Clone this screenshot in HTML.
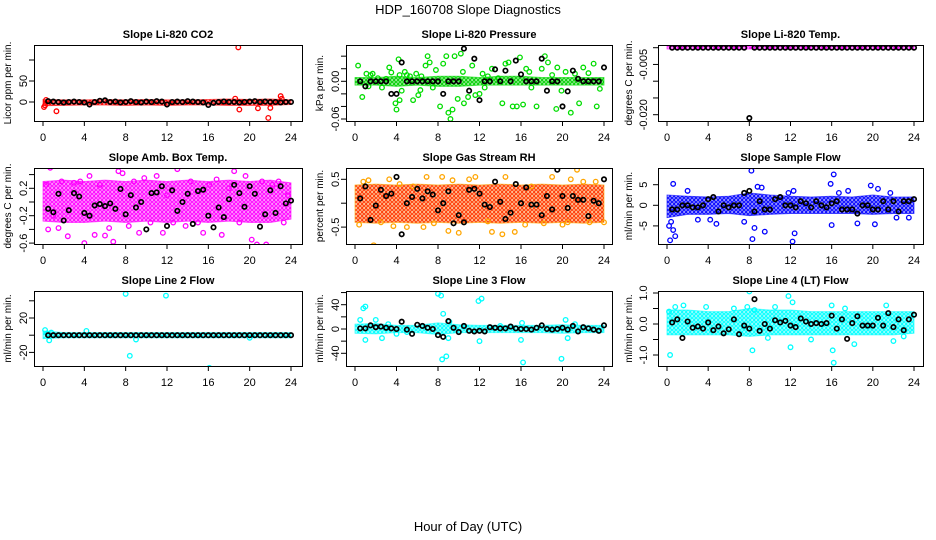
<!DOCTYPE html>
<html><head><meta charset="utf-8">
<style>
html,body{margin:0;padding:0;background:#fff;}
svg{display:block;font-family:"Liberation Sans",Arial,sans-serif;}
</style></head>
<body>
<svg id="chart" width="936" height="540" viewBox="0 0 936 540" xmlns="http://www.w3.org/2000/svg">
<text x="468" y="14" text-anchor="middle" font-size="13">HDP_160708  Slope Diagnostics</text>
<text x="468" y="531" text-anchor="middle" font-size="13">Hour of Day (UTC)</text>
<g id="panels"></g>
</svg>
<script>
const bandHours=[0,2,4,6,8,10,12,14,16,18,20,22,24];
const xTicks=[0,4,8,12,16,20,24];

const p1Lo=[-9,-8,-7,-7,-8,-7,-8,-7,-7,-8,-8,-8,-6];
const p1Hi=[6,5,5,6,5,6,5,5,6,7,6,7,5];
const p1Out=[[0.1,-12],[0.3,5],[1.3,-22],[18.6,8],[18.9,130],[19.0,-18],[20.8,-15],[21.8,-38],[22.0,-14],[23.0,14],[23.1,8],[0.2,-8]];
const p1Black=[2,1,0,-1,0,1,0,-1,-6,0,3,4,0,1,-1,0,2,0,-1,1,0,2,1,-6,0,1,0,2,1,0,-1,-7,-2,0,1,0,0,-1,0,1,2,0,1,0,0,-1,0,0];

const p2Lo=[-0.006,-0.006,-0.008,-0.006,-0.008,-0.008,-0.006,-0.006,-0.006,-0.006,-0.006,-0.006,-0.006];
const p2Hi=[0.006,0.006,0.008,0.006,0.008,0.008,0.006,0.008,0.008,0.006,0.006,0.006,0.006];
const p2Out=[[0.3,0.025],[0.7,-0.025],[1.1,0.012],[1.3,-0.008],[1.5,0.01],[1.7,0.012],[2.2,0.005],[2.6,-0.01],[3.0,0.004],[3.3,0.022],[3.5,0.014],[3.9,-0.035],[4.0,-0.045],[4.2,0.035],[4.3,0.01],[4.5,-0.015],[4.8,0.015],[5.0,0.01],[5.3,0.008],[5.6,-0.03],[5.9,0.012],[6.1,-0.022],[6.4,0.008],[6.8,0.025],[7.0,0.04],[7.2,0.03],[7.5,-0.01],[7.8,0.018],[8.2,-0.04],[8.5,0.028],[8.8,0.04],[9.0,-0.05],[9.2,-0.06],[9.4,-0.045],[9.6,0.04],[9.9,-0.028],[10.2,0.044],[10.4,0.015],[10.9,-0.025],[11.3,0.025],[11.6,-0.022],[12.0,-0.02],[12.3,0.012],[12.8,0.008],[13.2,0.02],[13.8,0.005],[14.2,-0.035],[14.5,0.028],[14.8,0.03],[15.2,-0.04],[15.6,-0.04],[15.9,0.038],[16.2,-0.037],[16.5,0.02],[17.0,-0.01],[17.5,-0.04],[18.0,0.02],[18.3,0.04],[18.6,0.03],[19.0,0.01],[19.4,-0.044],[19.9,-0.015],[20.3,0.015],[20.8,-0.05],[21.2,0.012],[21.6,-0.035],[22.0,0.022],[22.5,0.013],[23.0,0.028],[23.3,-0.04],[23.6,-0.012],[4.3,-0.03],[6.3,-0.014],[10.5,-0.035],[12.5,-0.01],[16.8,0.015],[19.5,0.022]];
const p2Black=[0,-0.008,0,0,0,0,-0.02,-0.02,0.03,0,0,0,0,0,0,0,-0.02,0,0,0,0.052,-0.015,0.036,-0.03,0,0,0.019,0,0.017,0,0.033,0.011,0,0,0,0.036,-0.015,0,0,-0.04,-0.016,0.017,0.004,0,0,0,0,0.022];

const p3Lo=[-0.0004,-0.0004,-0.0004,-0.0004,-0.0004,-0.0004,-0.0004,-0.0004,-0.0004,-0.0004,-0.0004,-0.0004,-0.0004];
const p3Hi=[0.0004,0.0004,0.0004,0.0004,0.0004,0.0004,0.0004,0.0004,0.0004,0.0004,0.0004,0.0004,0.0004];
const p3Out=[];
const p3Black=[0,0,0,0,0,0,0,0,0,0,0,0,0,0,0,-0.021,0,0,0,0,0,0,0,0,0,0,0,0,0,0,0,0,0,0,0,0,0,0,0,0,0,0,0,0,0,0,0,0];

const p4Lo=[-0.28,-0.3,-0.3,-0.28,-0.3,-0.28,-0.3,-0.28,-0.3,-0.28,-0.3,-0.3,-0.25];
const p4Hi=[0.3,0.32,0.3,0.32,0.3,0.32,0.3,0.32,0.3,0.32,0.3,0.32,0.28];
const p4Out=[[0.3,0.25],[0.5,-0.4],[0.7,0.5],[1.0,-0.2],[1.5,-0.38],[1.8,0.3],[2.4,-0.5],[3.0,0.28],[3.6,0.3],[4.0,-0.6],[4.5,0.38],[5.0,-0.48],[5.5,0.25],[6.0,-0.49],[6.4,-0.38],[6.8,-0.58],[7.3,0.45],[7.7,0.42],[8.3,-0.35],[8.8,0.3],[9.3,-0.45],[9.8,0.35],[10.4,-0.3],[11.0,0.38],[11.6,-0.45],[12.0,0.1],[12.6,-0.3],[13.0,0.48],[13.3,-0.72],[13.8,-0.35],[14.3,0.3],[15.0,-0.3],[15.5,-0.45],[16.1,0.25],[16.8,0.33],[17.3,-0.48],[18.0,0.2],[18.5,0.45],[19.0,-0.3],[19.6,0.38],[20.2,-0.55],[20.7,-0.62],[21.2,0.3],[21.6,-0.62],[22.2,0.25],[22.8,0.3],[23.3,-0.3],[23.7,0.1]];
const p4Black=[-0.1,-0.15,0.12,-0.27,-0.12,0.13,0.08,-0.16,-0.2,-0.05,-0.03,-0.06,-0.02,-0.1,0.19,-0.18,0.1,-0.08,0.0,-0.4,0.13,0.14,0.23,-0.35,0.17,-0.13,0.0,0.12,-0.32,0.16,0.18,-0.2,-0.37,-0.08,-0.22,0.04,0.25,0.13,-0.07,0.23,0.12,-0.36,-0.18,0.17,-0.16,0.23,-0.02,0.02];

const p5Lo=[-0.4,-0.42,-0.4,-0.42,-0.4,-0.42,-0.4,-0.42,-0.4,-0.42,-0.4,-0.42,-0.4];
const p5Hi=[0.38,0.4,0.38,0.4,0.38,0.4,0.38,0.4,0.38,0.4,0.38,0.4,0.38];
const p5Out=[[0.4,-0.45],[0.8,0.45],[1.3,0.48],[1.8,-0.88],[2.5,-0.4],[3.3,0.5],[3.7,-0.48],[4.3,0.4],[5.0,-0.5],[5.6,0.35],[6.6,-0.5],[6.9,0.55],[7.6,-0.42],[8.4,0.55],[9.4,0.48],[9.0,-0.58],[10.0,-0.62],[11.0,0.5],[11.6,0.55],[12.8,-0.38],[13.2,-0.6],[14.2,-0.65],[14.5,0.55],[15.4,-0.6],[16.4,-0.45],[17.0,0.35],[18.2,-0.42],[19.0,0.55],[20.0,-0.45],[20.5,-0.4],[20.8,0.5],[21.4,0.7],[22.0,0.45],[22.6,-0.4],[23.2,0.45],[24.0,-0.4]];
const p5Black=[0.1,0.35,-0.35,-0.05,0.28,0.15,0.2,0.55,-0.65,0,0.13,0.3,0.1,0.25,0.18,-0.15,0,0.25,-0.42,-0.25,-0.4,0.28,0.3,0.2,-0.03,-0.08,0.45,0.03,-0.33,-0.2,0.4,0,0.33,-0.03,-0.03,-0.25,0.15,-0.13,0.7,0.15,-0.1,0.15,0.07,0.07,-0.27,0.05,0,0.5];

const p6Lo=[-3,-2.2,-2.2,-2,-2.5,-2.2,-2,-2,-2,-2,-2.2,-2,-2];
const p6Hi=[2.5,2.2,2,2.2,3,2.5,2.2,2,2.2,2,2.5,2,2];
const p6Out=[[0.2,-5],[0.3,-8.5],[0.4,-4],[0.6,-6],[0.8,-7.5],[0.6,5.2],[2.0,3.5],[3.0,-3.5],[4.2,-3.5],[4.8,-4.5],[7.5,-4],[8.2,8.4],[8.3,-8.2],[8.5,-5.5],[8.8,4.5],[9.5,-6.4],[9.2,4.3],[11.8,3],[12.2,-8.8],[12.4,-6.8],[12.3,3.5],[15.9,5.2],[16.2,7.5],[16.0,-4.8],[16.7,3],[17.6,3.5],[18.5,-4.4],[19.8,4.8],[20.2,-4.6],[20.5,4],[21.7,3],[22.3,-3],[23.5,-3]];
const p6Black=[-1,-1,0,0,-0.5,-0.5,0,1.5,2,-1.5,0,-0.5,0,0,3,3.5,-1.5,1,-1,-1,1.5,2,0,0,-0.5,1,0.5,-0.5,1,0,-0.5,0.5,1,-1,-1,-1,-2,0,0,-1,-1,1,-1,1,-1.5,1,1,1.5];

const p7Lo=[-4,-3,-3,-3,-3,-3,-3,-3,-3,-3,-3,-3,-3];
const p7Hi=[5,3,3,3,3,3,3,3,3,3,3,3,3];
const p7Out=[[0.2,6],[0.4,2],[0.6,-6],[0.8,3],[8.0,48],[8.4,-24],[11.9,46],[16.0,-40],[16.1,-38],[9.0,-5],[4.2,5],[20,-3]];
const p7Black=[0,0,0,0,0,0,0,0,0,0,0,0,0,0,0,0,0,0,0,0,0,0,0,0,0,0,0,0,0,0,0,0,0,0,0,0,0,0,0,0,0,0,0,0,0,0,0,0];

const p8Lo=[-7,-8,-6,-6,-9,-6,-6,-6,-6,-6,-7,-6,-6];
const p8Hi=[8,9,6,6,10,7,6,6,6,6,7,6,6];
const p8Out=[[0.5,15],[0.8,34],[1.0,37],[1.0,-18],[2.0,15],[2.6,-15],[3.2,8],[4.0,-8],[5.0,-5],[8.0,58],[8.3,55],[8.4,-50],[8.8,-45],[8.5,25],[9.0,-15],[9.1,12],[11.9,46],[12.2,50],[12.0,-20],[16.0,-18],[16.1,10],[16.2,-55],[19.9,-49],[20.3,15],[20.5,-15],[21.2,8],[14,5]];
const p8Black=[1,1,6,3,4,2,1,0,12,-1,-8,7,5,2,0,-10,-13,13,2,-5,5,-3,-4,-3,-4,3,2,1,1,4,1,0,0,-1,2,6,0,-1,0,2,-1,5,-4,3,1,-1,-3,6];

const p9Lo=[-0.35,-0.35,-0.35,-0.35,-0.4,-0.35,-0.35,-0.35,-0.35,-0.35,-0.35,-0.35,-0.3];
const p9Hi=[0.45,0.45,0.4,0.4,0.5,0.45,0.45,0.4,0.4,0.4,0.4,0.4,0.4];
const p9Out=[[0.3,-1.0],[0.2,0.4],[0.8,0.55],[1.6,0.6],[3.8,0.55],[6.5,0.5],[7.8,0.55],[8.0,1.05],[8.3,-0.85],[8.5,0.45],[10.5,0.55],[11.8,0.9],[12.0,-0.75],[12.2,0.7],[16.0,0.6],[16.1,-0.85],[16.2,-1.25],[17.3,0.5],[18.2,-0.65],[21.3,0.6],[22.0,-0.55],[23.0,-0.4],[14,-0.5],[9.8,-0.45]];
const p9Black=[0.05,0.15,-0.45,0.08,-0.12,-0.08,-0.15,0.05,-0.2,-0.08,-0.3,-0.17,0.15,-0.33,-0.05,-0.15,0.8,-0.22,0,-0.15,0.12,0.05,0.1,-0.05,-0.1,0.18,0.08,0,0.03,0,0.03,0.27,-0.15,0.15,-0.48,0.03,0.25,-0.05,-0.05,-0.05,0.2,-0.05,0.35,-0.1,0.15,-0.2,0.15,0.3];

const NS='http://www.w3.org/2000/svg';
const svg=document.getElementById('chart');
const root=document.getElementById('panels');
const cols=[{x0:34,x1:302,h0:43,h24:291,tl:27,yt:11},{x0:346,x1:612,h0:355,h24:604,tl:339,yt:323},{x0:658,x1:923,h0:667,h24:914,tl:647,yt:632}];
const rows=[{top:45,bot:121},{top:168,bot:244},{top:291,bot:366}];
const panels=[
 {key:'co2',title:'Slope Li-820 CO2',ylab:'Licor ppm per min.',c:0,r:0,a:[0,102,50,81],ticks:[0,50,100],labs:['0','50',''],color:'#ff0000',fill:'#ff0000',lo:p1Lo,hi:p1Hi,out:p1Out,blk:p1Black},
 {key:'pressure',title:'Slope Li-820 Pressure',ylab:'kPa per min.',c:1,r:0,a:[0,81.3,-0.06,119],ticks:[0.04,0.02,0,-0.02,-0.04,-0.06],labs:['','','0.00','','','-0.06'],color:'#00dd00',fill:'#00cc00',lo:p2Lo,hi:p2Hi,out:p2Out,blk:p2Black},
 {key:'temp',title:'Slope Li-820 Temp.',ylab:'degrees C per min.',c:2,r:0,a:[0,47.7,-0.02,114.7],ticks:[0,-0.005,-0.01,-0.015,-0.02],labs:['','-0.005','','','-0.020'],color:'#ff00ff',fill:'#ff00ff',lo:p3Lo,hi:p3Hi,out:p3Out,blk:p3Black},
 {key:'amb-temp',title:'Slope Amb. Box Temp.',ylab:'degrees C per min.',c:0,r:1,a:[0,202,0.2,188.3],ticks:[0.4,0.2,0,-0.2,-0.4,-0.6],labs:['','0.2','','-0.2','','-0.6'],color:'#ff00ff',fill:'#ff00ff',lo:p4Lo,hi:p4Hi,out:p4Out,blk:p4Black},
 {key:'rh',title:'Slope Gas Stream RH',ylab:'percent per min.',c:1,r:1,a:[0,203.2,0.5,179.3],ticks:[0.5,0,-0.5],labs:['0.5','','-0.5'],color:'#ffa500',fill:'#ff3300',lo:p5Lo,hi:p5Hi,out:p5Out,blk:p5Black},
 {key:'sample-flow',title:'Slope Sample Flow',ylab:'ml/min per min.',c:2,r:1,a:[0,205.3,5,184.7],ticks:[5,0,-5],labs:['5','0','-5'],color:'#0000ff',fill:'#0000ff',lo:p6Lo,hi:p6Hi,out:p6Out,blk:p6Black},
 {key:'line2',title:'Slope Line 2 Flow',ylab:'ml/min per min.',c:0,r:2,a:[0,335.2,20,318],ticks:[40,20,0,-20],labs:['','20','','-20'],color:'#00ffff',fill:'#00ffff',lo:p7Lo,hi:p7Hi,out:p7Out,blk:p7Black},
 {key:'line3',title:'Slope Line 3 Flow',ylab:'ml/min per min.',c:1,r:2,a:[0,329,40,304.7],ticks:[60,40,20,0,-20,-40],labs:['','40','','0','','-40'],color:'#00ffff',fill:'#00ffff',lo:p8Lo,hi:p8Hi,out:p8Out,blk:p8Black},
 {key:'line4',title:'Slope Line 4 (LT) Flow',ylab:'ml/min per min.',c:2,r:2,a:[0,324,1,293],ticks:[1,0.5,0,-0.5,-1],labs:['1.0','','0.0','','-1.0'],color:'#00ffff',fill:'#00ffff',lo:p9Lo,hi:p9Hi,out:p9Out,blk:p9Black}
];
function mk(tag,attrs,parent){const e=document.createElementNS(NS,tag);for(const k in attrs)e.setAttribute(k,attrs[k]);(parent||root).appendChild(e);return e;}
const defs=mk('defs',{},svg);
panels.forEach((p,pi)=>{
 const col=cols[p.c],row=rows[p.r];
 const xs=h=>col.h0+(col.h24-col.h0)*h/24;
 const ys=v=>p.a[1]+(v-p.a[0])*(p.a[3]-p.a[1])/(p.a[2]-p.a[0]);
 const g=mk('g',{});
 
 
 const clip=mk('clipPath',{id:'clip'+pi},defs);
 mk('rect',{x:col.x0,y:row.top,width:col.x1-col.x0,height:row.bot-row.top},clip);
 const pat=mk('pattern',{id:'pat'+pi,width:4,height:4,patternUnits:'userSpaceOnUse'},defs);
 mk('rect',{x:0,y:0,width:4,height:4,fill:p.color,opacity:0.25},pat);
 mk('circle',{cx:2,cy:2,r:1.4,fill:'none',stroke:p.fill,'stroke-width':1.1},pat);
 const t=mk('text',{x:(col.x0+col.x1)/2,y:row.top-7,'text-anchor':'middle','font-size':11,'font-weight':'bold'},g);
 t.textContent=p.title;
 
 
 const plot=mk('g',{'clip-path':'url(#clip'+pi+')'},g);
 let pts=bandHours.map((h,i)=>xs(h)+','+ys(p.hi[i]));
 pts=pts.concat(bandHours.map((h,i)=>xs(h)+','+ys(p.lo[i])).reverse());
 const band=mk('polygon',{points:pts.join(' '),fill:'url(#pat'+pi+')',stroke:p.color,'stroke-width':1,'stroke-opacity':0.6,'stroke-linejoin':'round'},plot);
 
 
 p.out.forEach(d=>{
  const c=mk('circle',{cx:xs(d[0]),cy:ys(d[1]),r:2.3,fill:'none',stroke:p.color,'stroke-width':1.3},plot);
  
  
 });
 p.blk.forEach((v,i)=>{
  const c=mk('circle',{cx:xs(0.5*(i+1)),cy:ys(v),r:2.2,fill:'none',stroke:'#000','stroke-width':1.7},plot);
  
  
 });
 const box=mk('rect',{x:col.x0+0.5,y:row.top+0.5,width:col.x1-col.x0,height:row.bot-row.top,fill:'none',stroke:'#000','stroke-width':1},g);
 
 
 const xa=mk('g',{},g);
 
 
 xTicks.forEach(h=>{
  mk('line',{x1:xs(h),x2:xs(h),y1:row.bot,y2:row.bot+5,stroke:'#000'},xa);
  const l=mk('text',{x:xs(h),y:row.bot+20,'text-anchor':'middle','font-size':11},xa);
  l.textContent=String(h);
  
  
 });
 const ya=mk('g',{},g);
 
 
 p.ticks.forEach((v,i)=>{
  const y=ys(v);
  mk('line',{x1:col.x0-5,x2:col.x0,y1:y,y2:y,stroke:'#000'},ya);
  if(p.labs[i]){
   const l=mk('text',{x:col.tl,y:y,'text-anchor':'middle','font-size':11,transform:'rotate(-90 '+col.tl+' '+y+')'},ya);
   l.textContent=p.labs[i];
   
   
  }
 });
 const ymid=(row.top+row.bot)/2;
 const yl=mk('text',{x:col.yt,y:ymid,'text-anchor':'middle','font-size':10,transform:'rotate(-90 '+col.yt+' '+ymid+')'},g);
 yl.textContent=p.ylab;
 
 
});
</script>
</body></html>
